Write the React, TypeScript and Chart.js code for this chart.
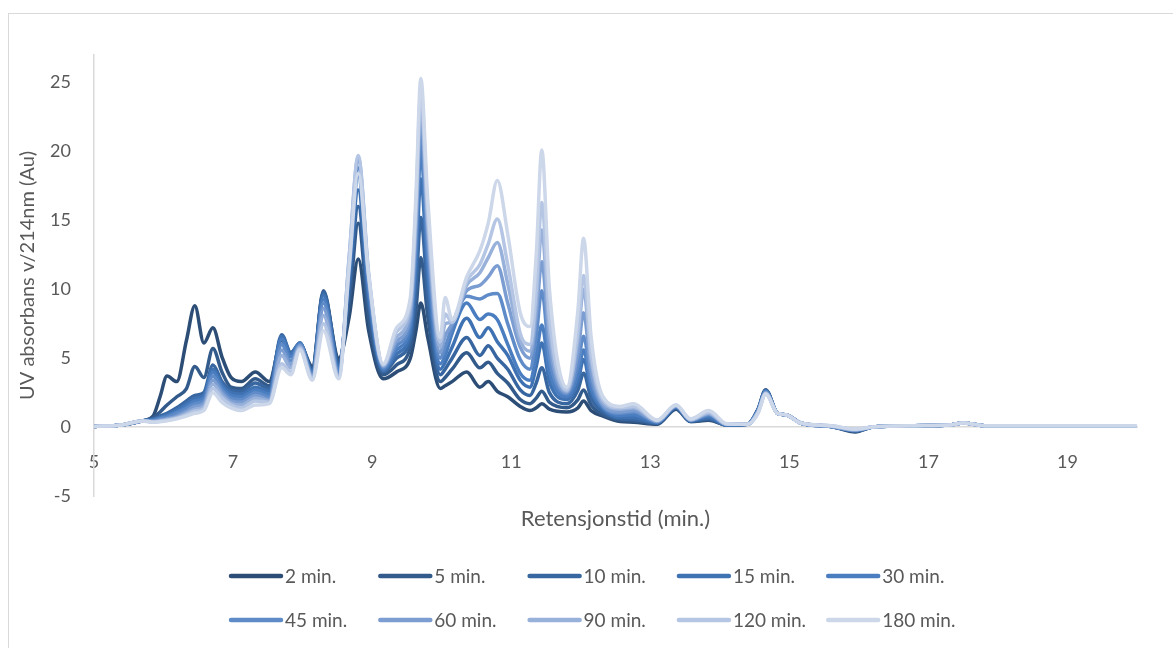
import { useEffect, useRef } from "react";
import { Chart, registerables } from "chart.js";

Chart.register(...registerables);

// Retention time (min.) at which every trace is sampled
const RETENTION = [
  5.0, 5.4, 5.7, 5.85, 5.95, 6.05, 6.19, 6.33, 6.45, 6.58,
  6.71, 6.84, 6.97, 7.12, 7.32, 7.52, 7.7, 7.83, 7.96, 8.14,
  8.3, 8.52, 8.67, 8.8, 8.95, 9.16, 9.35, 9.55, 9.63, 9.7,
  9.8, 9.98, 10.05, 10.15, 10.36, 10.55, 10.67, 10.8, 10.95, 11.13,
  11.27, 11.36, 11.44, 11.55, 11.8, 11.96, 12.04, 12.15, 12.32, 12.57,
  12.76, 13.1, 13.37, 13.58, 13.84, 14.1, 14.4, 14.55, 14.66, 14.83,
  14.95, 15.16, 15.6, 15.95, 16.2, 16.8, 17.3, 17.5, 17.8, 18.5,
  20.0,
];

const SERIES_LABELS = [
  "2 min.", "5 min.", "10 min.", "15 min.", "30 min.",
  "45 min.", "60 min.", "90 min.", "120 min.", "180 min.",
];

const SERIES_COLORS = [
  "#2c4d76", "#325a8b", "#3866a0", "#3f72b2", "#4a7ec0",
  "#5f8bc8", "#7b9dd1", "#98b1da", "#b5c6e4", "#cdd7ea",
];

// UV absorbance (Au) per hydrolysis time
const ABS_2 = [
  0.05, 0.15, 0.45, 0.8, 2.2, 3.7, 3.3, 6.3, 8.8, 6.1,
  7.2, 5.1, 3.6, 3.3, 4.0, 3.3, 6.3, 5.3, 6.0, 4.4,
  9.7, 5.0, 8.0, 12.2, 7.0, 3.5, 4.0, 5.0, 7.0, 9.0,
  6.5, 2.8, 3.0, 3.3, 4.0, 2.9, 3.3, 2.6, 2.2, 1.5,
  1.2, 1.4, 1.7, 1.3, 1.1, 1.4, 1.9, 1.2, 0.8, 0.4,
  0.35, 0.2, 1.3, 0.4, 0.5, 0.15, 0.2, 1.3, 2.7, 1.0,
  0.9, 0.3, 0.05, -0.35, 0.0, 0.1, 0.15, 0.3, 0.1, 0.1,
  0.1,
];
const ABS_5 = [
  0.05, 0.15, 0.45, 0.7, 1.1, 1.6, 2.2, 2.8, 4.4, 3.6,
  5.7, 4.0, 2.9, 2.8, 3.5, 3.0, 6.5, 5.4, 6.0, 4.3,
  9.9, 4.8, 9.0, 14.8, 8.0, 3.8, 4.5, 5.8, 8.5, 12.3,
  8.0, 3.3, 3.6, 4.2, 5.4, 4.3, 4.7, 3.9, 3.2, 2.0,
  1.7, 2.1, 2.6, 1.8, 1.4, 2.0, 2.7, 1.6, 0.9, 0.5,
  0.45, 0.25, 1.35, 0.4, 0.55, 0.15, 0.2, 1.3, 2.7, 1.0,
  0.9, 0.3, 0.05, -0.3, 0.0, 0.1, 0.15, 0.3, 0.1, 0.1,
  0.1,
];
const ABS_10 = [
  0.05, 0.15, 0.45, 0.6, 0.8, 1.0, 1.4, 1.9, 2.3, 2.5,
  4.5, 3.3, 2.7, 2.6, 3.2, 2.8, 6.7, 5.4, 6.1, 4.1,
  9.8, 4.6, 10.0, 16.0, 9.0, 4.0, 5.0, 6.4, 10.0, 15.2,
  9.5, 3.8, 4.2, 5.0, 6.5, 5.2, 5.9, 5.0, 4.2, 2.7,
  2.3, 3.2, 4.3, 2.5, 1.7, 2.7, 3.9, 2.1, 1.1, 0.6,
  0.55, 0.3, 1.4, 0.45, 0.6, 0.15, 0.2, 1.25, 2.65, 1.0,
  0.9, 0.3, 0.05, -0.25, 0.0, 0.1, 0.15, 0.3, 0.1, 0.1,
  0.1,
];
const ABS_15 = [
  0.05, 0.15, 0.45, 0.55, 0.7, 0.9, 1.25, 1.7, 2.1, 2.3,
  4.2, 3.1, 2.5, 2.4, 2.9, 2.6, 6.6, 5.3, 6.1, 4.0,
  9.6, 4.4, 10.8, 17.2, 9.5, 4.1, 5.3, 6.9, 11.5, 18.0,
  11.0, 4.2, 4.7, 5.8, 7.9, 6.5, 7.2, 6.2, 5.2, 3.4,
  2.9, 4.4, 6.1, 3.3, 2.0, 3.3, 4.9, 2.6, 1.3, 0.7,
  0.7, 0.3, 1.45, 0.45, 0.7, 0.15, 0.2, 1.25, 2.6, 1.0,
  0.9, 0.3, 0.05, -0.25, 0.0, 0.1, 0.15, 0.3, 0.1, 0.1,
  0.1,
];
const ABS_30 = [
  0.05, 0.15, 0.45, 0.5, 0.65, 0.8, 1.1, 1.5, 1.9, 2.1,
  4.0, 2.9, 2.3, 2.2, 2.7, 2.4, 6.4, 5.1, 6.1, 3.9,
  9.3, 4.2, 11.3, 18.2, 10.0, 4.2, 5.6, 7.3, 12.5, 20.0,
  12.0, 4.6, 5.2, 6.8, 9.0, 7.8, 8.2, 7.8, 6.0, 3.9,
  3.4, 5.2, 7.4, 4.0, 2.2, 3.8, 5.6, 2.9, 1.4, 0.85,
  0.9, 0.35, 1.5, 0.5, 0.8, 0.15, 0.2, 1.2, 2.6, 1.0,
  0.9, 0.3, 0.05, -0.25, 0.0, 0.1, 0.15, 0.3, 0.1, 0.1,
  0.1,
];
const ABS_45 = [
  0.05, 0.15, 0.45, 0.45, 0.6, 0.7, 1.0, 1.35, 1.7, 1.9,
  3.7, 2.7, 2.1, 2.0, 2.5, 2.2, 6.0, 4.8, 6.0, 3.8,
  9.0, 4.0, 11.6, 18.8, 10.4, 4.3, 5.9, 7.7, 13.5, 21.5,
  13.0, 5.0, 5.8, 7.3, 9.5, 9.3, 9.6, 9.7, 7.5, 4.9,
  4.2, 6.6, 9.9, 5.0, 2.4, 4.5, 6.6, 3.4, 1.5, 1.0,
  1.1, 0.4, 1.5, 0.5, 0.9, 0.2, 0.2, 1.2, 2.55, 1.0,
  0.9, 0.3, 0.05, -0.2, 0.0, 0.1, 0.15, 0.3, 0.1, 0.1,
  0.1,
];
const ABS_60 = [
  0.05, 0.15, 0.45, 0.4, 0.5, 0.6, 0.8, 1.15, 1.5, 1.7,
  3.4, 2.5, 1.9, 1.8, 2.3, 2.0, 5.6, 4.5, 5.9, 3.7,
  8.6, 3.8, 12.0, 19.3, 10.8, 4.4, 6.2, 8.1, 14.5, 22.8,
  14.0, 5.4, 6.6, 7.5, 9.9, 10.3, 10.9, 11.7, 9.0, 5.8,
  5.0, 8.0, 12.0, 6.0, 2.5, 5.4, 8.3, 4.0, 1.6, 1.1,
  1.2, 0.4, 1.55, 0.5, 0.95, 0.2, 0.2, 1.15, 2.5, 1.0,
  0.9, 0.3, 0.05, -0.2, 0.0, 0.1, 0.15, 0.3, 0.1, 0.1,
  0.1,
];
const ABS_90 = [
  0.05, 0.15, 0.45, 0.4, 0.45, 0.55, 0.7, 1.0, 1.3, 1.5,
  3.1, 2.3, 1.75, 1.6, 2.1, 1.9, 5.2, 4.3, 5.8, 3.6,
  8.1, 3.7, 12.3, 19.6, 11.0, 4.5, 6.5, 8.6, 15.2, 23.6,
  14.8, 5.8, 7.5, 7.6, 10.3, 11.2, 12.3, 13.4, 10.4, 6.3,
  5.5, 9.0, 14.3, 7.0, 2.6, 6.4, 10.0, 4.8, 1.8, 1.3,
  1.4, 0.45, 1.55, 0.55, 1.0, 0.2, 0.2, 1.1, 2.45, 1.0,
  0.9, 0.3, 0.08, -0.2, 0.0, 0.1, 0.15, 0.3, 0.1, 0.1,
  0.1,
];
const ABS_120 = [
  0.05, 0.15, 0.45, 0.35, 0.4, 0.5, 0.65, 0.9, 1.15, 1.35,
  2.8, 2.1, 1.6, 1.4, 1.9, 1.8, 4.6, 4.0, 5.7, 3.5,
  7.5, 3.6, 12.4, 19.7, 11.2, 4.5, 6.9, 9.0, 16.0, 24.3,
  15.5, 6.2, 8.2, 7.6, 10.6, 11.8, 13.3, 15.1, 11.8, 6.8,
  6.0, 10.0, 16.3, 8.0, 2.7, 7.0, 11.0, 5.3, 2.0, 1.4,
  1.5, 0.5, 1.6, 0.55, 1.1, 0.2, 0.2, 1.05, 2.4, 1.0,
  0.9, 0.3, 0.1, -0.15, 0.0, 0.1, 0.15, 0.3, 0.1, 0.1,
  0.1,
];
const ABS_180 = [
  0.05, 0.15, 0.45, 0.35, 0.4, 0.45, 0.6, 0.8, 1.0, 1.2,
  2.5, 1.8, 1.4, 1.2, 1.6, 1.7, 4.3, 3.8, 5.6, 3.4,
  7.0, 3.5, 11.6, 18.4, 11.0, 4.6, 7.2, 9.4, 16.8, 25.3,
  16.5, 6.5, 9.4, 7.8, 10.9, 12.8, 14.8, 17.9, 14.0, 8.3,
  7.3, 12.5, 20.1, 10.0, 2.9, 8.5, 13.7, 6.5, 2.2, 1.5,
  1.7, 0.5, 1.6, 0.6, 1.2, 0.25, 0.2, 1.0, 2.4, 1.0,
  0.9, 0.3, 0.1, -0.15, 0.0, 0.1, 0.15, 0.3, 0.1, 0.1,
  0.1,
];

const SERIES_VALUES = [
  ABS_2, ABS_5, ABS_10, ABS_15, ABS_30,
  ABS_45, ABS_60, ABS_90, ABS_120, ABS_180,
];

const X_TICKS = [5, 7, 9, 11, 13, 15, 17, 19];
const Y_TICKS = [-5, 0, 5, 10, 15, 20, 25];
const X_TITLE = "Retensjonstid (min.)";
const Y_TITLE = "UV absorbans v/214nm (Au)";

const FONT = "Lato, 'Open Sans', sans-serif";
const TEXT_COLOR = "#595959";
const AXIS_COLOR = "#d9d9d9";

export default function App() {
  const canvasRef = useRef<HTMLCanvasElement>(null);

  useEffect(() => {
    const canvas = canvasRef.current;
    if (!canvas) return;

    // Axis title under the plot plus the two-row legend
    const decorations = {
      id: "decorations",
      afterDraw(chart: Chart) {
        const { ctx, chartArea } = chart;
        ctx.save();
        ctx.fillStyle = TEXT_COLOR;
        ctx.textBaseline = "middle";
        ctx.textAlign = "center";
        ctx.font = `22px ${FONT}`;
        ctx.fillText(X_TITLE, (chartArea.left + chartArea.right) / 2, chartArea.bottom + 23);

        ctx.font = `19px ${FONT}`;
        ctx.textAlign = "left";
        SERIES_LABELS.forEach((label, i) => {
          const col = i % 5;
          const row = Math.floor(i / 5);
          const x = 231 + col * 149.3;
          const y = 576 + row * 44;
          ctx.strokeStyle = SERIES_COLORS[i];
          ctx.lineWidth = 4.5;
          ctx.lineCap = "round";
          ctx.beginPath();
          ctx.moveTo(x, y);
          ctx.lineTo(x + 50, y);
          ctx.stroke();
          ctx.fillText(label, x + 54, y + 1);
        });
        ctx.restore();
      },
    };

    const chart = new Chart(canvas, {
      type: "line",
      data: {
        datasets: SERIES_VALUES.map((values, i) => ({
          label: SERIES_LABELS[i],
          data: RETENTION.map((x, j) => ({ x, y: values[j] })),
          borderColor: SERIES_COLORS[i],
          backgroundColor: SERIES_COLORS[i],
          borderWidth: 3.5,
          pointRadius: 0,
          fill: false,
          cubicInterpolationMode: "monotone" as const,
          borderCapStyle: "round" as const,
          borderJoinStyle: "round" as const,
          order: SERIES_VALUES.length - i,
        })),
      },
      options: {
        responsive: false,
        animation: false,
        layout: { padding: { left: 14, top: 55, right: 36, bottom: 152 } },
        plugins: {
          legend: { display: false },
          tooltip: { enabled: false },
        },
        scales: {
          x: {
            type: "linear",
            min: 5,
            max: 20,
            position: { y: 0 },
            grid: { display: false, drawTicks: false },
            border: { display: true, color: AXIS_COLOR, width: 1.5 },
            ticks: {
              color: TEXT_COLOR,
              font: { family: FONT, size: 18 },
              padding: 24,
              maxRotation: 0,
              autoSkip: false,
            },
            afterBuildTicks: (scale: any) => {
              scale.ticks = X_TICKS.map((value) => ({ value }));
            },
          },
          y: {
            type: "linear",
            min: -5,
            max: 27,
            grid: { display: false, drawTicks: false },
            border: { display: true, color: AXIS_COLOR, width: 1.5 },
            ticks: {
              color: TEXT_COLOR,
              font: { family: FONT, size: 18 },
              padding: 23,
              autoSkip: false,
            },
            title: {
              display: true,
              text: Y_TITLE,
              color: TEXT_COLOR,
              font: { family: FONT, size: 20 },
              padding: { top: 2, bottom: 0 },
            },
            afterBuildTicks: (scale: any) => {
              scale.ticks = Y_TICKS.map((value) => ({ value }));
            },
            afterFit: (scale: any) => {
              scale.width = 80;
            },
          },
        },
      },
      plugins: [decorations],
    });

    return () => chart.destroy();
  }, []);

  return (
    <div
      style={{
        position: "fixed",
        left: 0,
        top: 0,
        width: 1173,
        height: 648,
        background: "#ffffff",
        overflow: "hidden",
      }}
    >
      <div
        style={{
          position: "absolute",
          left: 8,
          top: 13,
          width: 1200,
          height: 700,
          borderTop: `1px solid ${AXIS_COLOR}`,
          borderLeft: `1px solid ${AXIS_COLOR}`,
        }}
      />
      <canvas
        ref={canvasRef}
        width={1173}
        height={648}
        style={{ position: "absolute", left: 0, top: 0, width: 1173, height: 648 }}
      />
    </div>
  );
}
